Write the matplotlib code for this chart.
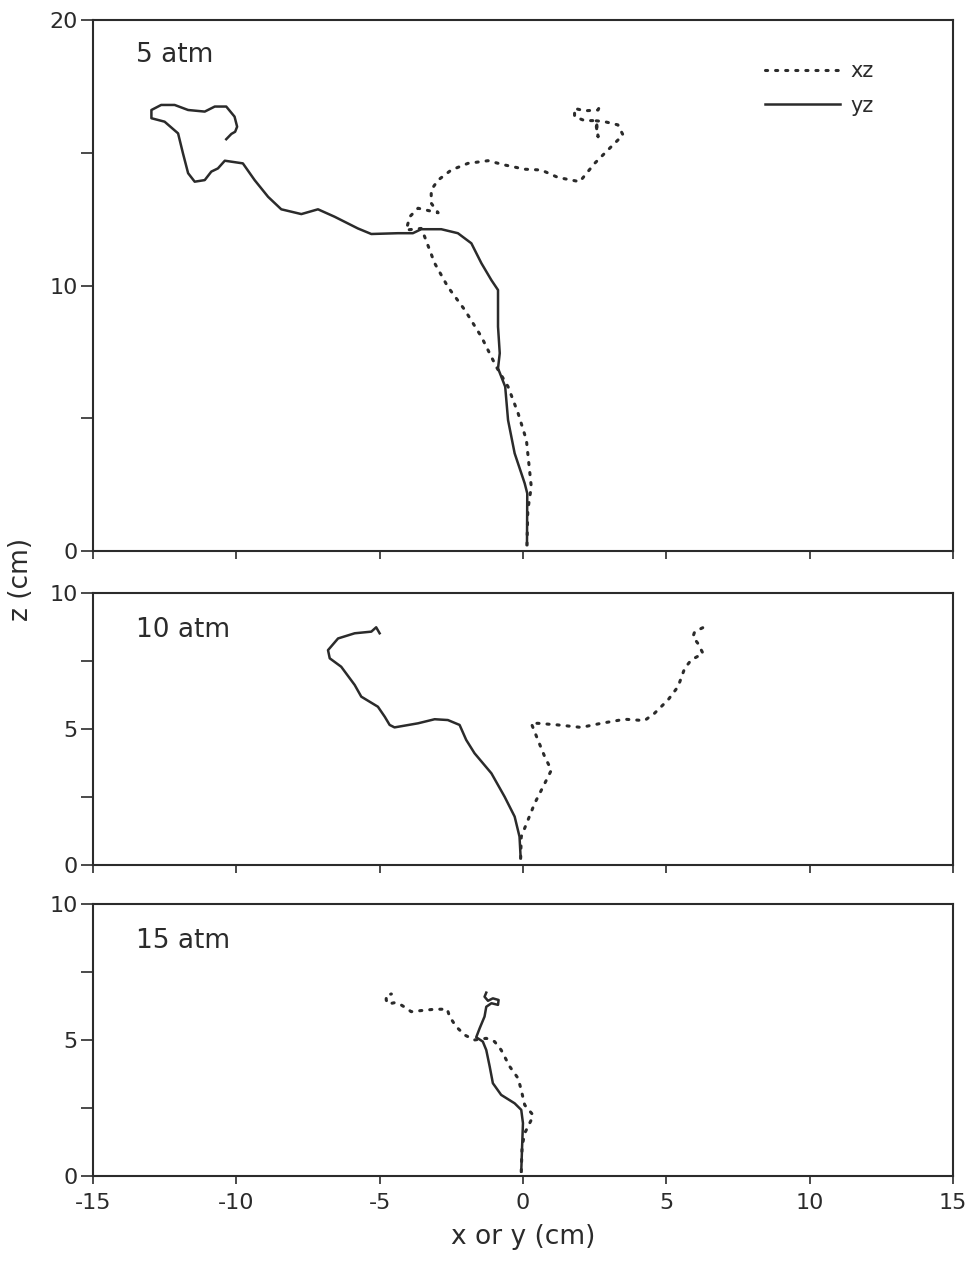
import numpy as np
import matplotlib
matplotlib.use("Agg")
import matplotlib.pyplot as plt

# traced trajectories, x (or y) vs z, in cm
# 5 atm
yz5_x = [0.14, 0.15, 0.06, -0.29, -0.52, -0.62, -0.87, -0.81, -0.87, -0.87, -1.10, -1.45, -1.80,
         -2.27, -2.85, -3.55, -3.84, -4.36, -5.29, -5.76, -6.57, -7.15, -7.73, -8.43, -8.89,
         -9.36, -9.77, -10.40, -10.64, -10.87, -11.10, -11.45, -11.68, -11.86, -12.03, -12.50,
         -12.96, -12.96, -12.62, -12.15, -11.68, -11.10, -10.75, -10.35, -10.06, -9.97, -10.04,
         -10.17, -10.35]
yz5_z = [0.23, 2.17, 2.55, 3.68, 4.93, 6.19, 6.88, 7.45, 8.45, 9.83, 10.20, 10.84, 11.59,
         11.97, 12.12, 12.12, 11.97, 11.97, 11.94, 12.15, 12.59, 12.87, 12.69, 12.87, 13.34,
         13.97, 14.60, 14.70, 14.41, 14.29, 13.97, 13.91, 14.23, 14.98, 15.73, 16.17,
         16.30, 16.61, 16.80, 16.80, 16.61, 16.55, 16.74, 16.74, 16.36, 15.98, 15.79,
         15.71, 15.51]
xz5_x = [0.14, 0.17, 0.29, 0.12, -0.17, -0.52, -0.93, -1.45, -2.03, -2.62, -3.08, -3.43, -3.55,
         -4.07, -3.95, -3.66, -2.96, -3.20, -3.20, -2.96, -2.50, -1.92, -1.22, -0.64, 0.06,
         0.64, 1.22, 1.98, 2.50, 3.08, 3.49, 3.31, 2.85, 2.50, 2.56, 2.62, 2.56, 2.15, 1.80,
         1.80, 2.15, 2.62, 2.67]
xz5_z = [0.23, 1.54, 2.42, 4.18, 5.19, 6.19, 6.94, 8.07, 9.08, 9.95, 10.84, 11.84, 12.15,
         12.09, 12.59, 12.91, 12.74, 13.10, 13.60, 13.97, 14.35, 14.60, 14.70, 14.54, 14.38,
         14.35, 14.07, 13.91, 14.60, 15.23, 15.67, 16.05, 16.17, 16.21, 15.98, 15.60, 16.21,
         16.21, 16.36, 16.67, 16.58, 16.61, 16.74]

# 10 atm
yz10_x = [-0.08, -0.12, -0.29, -0.64, -1.10, -1.69, -1.98, -2.21, -2.62, -3.08, -3.66, -4.48,
          -4.65, -4.82, -5.06, -5.64, -5.87, -6.34, -6.74, -6.80, -6.45, -5.87, -5.29, -5.12,
          -5.00]
yz10_z = [0.25, 1.04, 1.78, 2.51, 3.37, 4.11, 4.60, 5.15, 5.33, 5.36, 5.21, 5.06,
          5.15, 5.45, 5.82, 6.19, 6.62, 7.29, 7.60, 7.90, 8.33, 8.52, 8.58, 8.74,
          8.52]
xz10_x = [-0.08, -0.06, 0.41, 0.76, 0.99, 0.76, 0.52, 0.29, 0.52, 1.22, 2.03, 2.73, 3.55,
          4.24, 4.59, 5.06, 5.41, 5.64, 5.87, 6.28, 6.10, 5.93, 5.99, 6.34]
xz10_z = [0.25, 1.04, 2.27, 3.00, 3.49, 3.98, 4.60, 5.21, 5.21, 5.15, 5.06, 5.21, 5.36,
          5.31, 5.58, 6.07, 6.56, 7.23, 7.54, 7.78, 8.15, 8.39, 8.58, 8.76]

# 15 atm
yz15_x = [-0.06, -0.03, 0.00, -0.06, -0.29, -0.76, -1.05, -1.16, -1.28, -1.40, -1.63, -1.51,
          -1.34, -1.28, -1.10, -0.87, -0.85, -1.05, -1.22, -1.34, -1.28]
yz15_z = [0.16, 1.08, 1.94, 2.43, 2.67, 2.98, 3.41, 4.02, 4.63, 4.94, 5.10, 5.43,
          5.86, 6.22, 6.35, 6.29, 6.47, 6.53, 6.44, 6.59, 6.74]
xz15_x = [-0.06, -0.03, 0.06, 0.29, 0.35, 0.06, -0.06, -0.17, -0.46, -0.76, -0.99, -1.28,
          -1.69, -2.03, -2.33, -2.56, -2.64, -3.08, -3.55, -3.90, -4.07, -4.30, -4.48, -4.71,
          -4.77, -4.77, -4.59]
xz15_z = [0.16, 1.08, 1.57, 2.06, 2.24, 2.61, 3.16, 3.59, 4.02, 4.63, 4.94, 5.06,
          5.00, 5.18, 5.49, 5.86, 6.13, 6.13, 6.08, 6.04, 6.17, 6.32, 6.37, 6.32,
          6.47, 6.65, 6.69]

panels = [
    ("5 atm", xz5_x, xz5_z, yz5_x, yz5_z, 20, [0, 5, 10, 15, 20], ["0", "", "10", "", "20"]),
    ("10 atm", xz10_x, xz10_z, yz10_x, yz10_z, 10, [0, 2.5, 5, 7.5, 10], ["0", "", "5", "", "10"]),
    ("15 atm", xz15_x, xz15_z, yz15_x, yz15_z, 10, [0, 2.5, 5, 7.5, 10], ["0", "", "5", "", "10"]),
]
xticks = [-15, -10, -5, 0, 5, 10, 15]

plt.rcParams['font.family'] = ['DejaVu Sans']
ink = '#2b2b2b'

fig = plt.figure(figsize=(9.68, 12.65), dpi=100)
boxes = [(0.096, 0.5644, 0.8885, 0.4198),
         (0.096, 0.3162, 0.8885, 0.2150),
         (0.096, 0.0704, 0.8885, 0.2150)]

axes = []
for box, (name, xx, xz, yx, yz, zmax, yt, ytl) in zip(boxes, panels):
    ax = fig.add_axes(box)
    ax.plot(xx, xz, color=ink, lw=2.2, linestyle=(0, (0.7, 2.6)), dash_capstyle='round', label='xz')
    ax.plot(yx, yz, color=ink, lw=1.8, label='yz')
    ax.set_xlim(-15, 15)
    ax.set_ylim(0, zmax)
    ax.set_yticks(yt)
    ax.set_yticklabels(ytl)
    ax.set_xticks(xticks)
    ax.tick_params(axis='y', direction='out', length=9, width=1.2, color=ink,
                   labelsize=16, labelcolor=ink, pad=2)
    ax.tick_params(axis='x', direction='out', length=6, width=1.2, color=ink,
                   labelsize=16, labelcolor=ink, pad=6)
    for sp in ax.spines.values():
        sp.set_color(ink)
        sp.set_linewidth(1.5)
    ax.text(0.05, 0.935 if zmax == 20 else 0.865, name, transform=ax.transAxes,
            fontsize=19, color=ink, va='center', ha='left')
    axes.append(ax)

for ax in axes[:-1]:
    ax.set_xticklabels([])
axes[-1].set_xticklabels([str(t) for t in xticks])
axes[-1].set_xlabel("x or y (cm)", fontsize=19, color=ink, labelpad=8)

axes[0].legend(loc='upper right', bbox_to_anchor=(0.93, 0.958), frameon=False,
               handlelength=3.6, fontsize=15, labelcolor=ink, handletextpad=0.5,
               labelspacing=0.7)

fig.text(0.022, 0.542, "z (cm)", rotation=90, fontsize=19, color=ink,
         ha='center', va='center')

fig.savefig("out.png", dpi=100)
